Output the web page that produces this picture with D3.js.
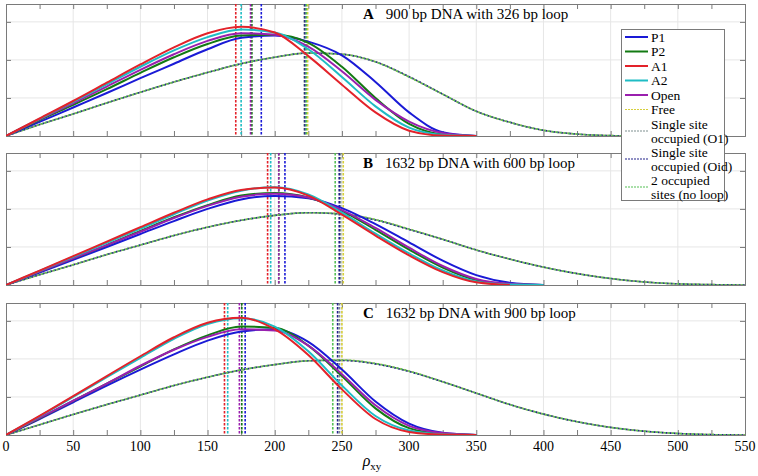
<!DOCTYPE html>
<html><head><meta charset="utf-8">
<script src="https://cdn.jsdelivr.net/npm/d3@7/dist/d3.min.js"></script>
<style>body{margin:0;background:#fff}svg{display:block}</style>
</head><body><svg id="c" width="758" height="476" font-family="'Liberation Serif', 'Times New Roman', serif"></svg>
<script>
// ---------- DATA ----------
const xGrid = [0,25,50,75,100,125,150,175,200,225,250,275,300,325,350,375,400,425,450,475,500,525,550];
const xTickLabels = [0,50,100,150,200,250,300,350,400,450,500,550];
const panelTitles = [["A","900 bp DNA with 326 bp loop"],["B","1632 bp DNA with 600 bp loop"],["C","1632 bp DNA with 900 bp loop"]];
const seriesNames = ["P1","P2","A1","A2","Open","Free","Single site occupied (O1)","Single site occupied (Oid)","2 occupied sites (no loop)"];

// Panel A
const A_P1   = [0,.37,.75,1.13,1.52,1.9,2.28,2.58,2.64,2.48,2.12,1.42,.62,.1,0];
const A_P2   = [0,.42,.82,1.23,1.66,2.07,2.42,2.64,2.66,2.45,1.82,1.0,.32,.04,0];
const A_A1   = [0,.46,.92,1.4,1.88,2.33,2.7,2.87,2.72,2.1,1.35,.62,.14,.01,0];
const A_A2   = [0,.45,.9,1.36,1.82,2.25,2.6,2.8,2.72,2.28,1.55,.78,.22,.03,0];
const A_Open = [0,.44,.86,1.3,1.74,2.15,2.5,2.7,2.66,2.35,1.7,.95,.38,.08,0];
const A_Free = [0,.3,.58,.87,1.15,1.42,1.67,1.9,2.07,2.18,2.15,1.95,1.55,1.1,.65,.36,.15,.05,.01,0];
const A_O1   = [0,.3,.58,.87,1.15,1.42,1.67,1.9,2.07,2.18,2.15,1.95,1.56,1.1,.65,.36,.15,.05,.01,0];
const A_Oid  = [0,.3,.58,.87,1.15,1.42,1.67,1.9,2.07,2.18,2.15,1.95,1.56,1.1,.65,.36,.15,.05,.01,0];
const A_Two  = [0,.3,.58,.87,1.15,1.42,1.67,1.9,2.07,2.18,2.15,1.95,1.55,1.1,.65,.36,.15,.05,.01,0];
const A_means = [190,183,171,175,182,224.5,222,222.5,223.5];

// Panel B
const B_P1   = [0,.33,.66,1.0,1.34,1.68,2.0,2.25,2.34,2.28,2.02,1.6,1.12,.64,.26,.06,0];
const B_P2   = [0,.35,.7,1.05,1.42,1.78,2.1,2.35,2.42,2.3,1.95,1.45,.93,.46,.13,.02,0];
const B_A1   = [0,.38,.76,1.14,1.52,1.9,2.25,2.5,2.56,2.35,1.85,1.3,.78,.34,.07,0];
const B_A2   = [0,.37,.74,1.11,1.48,1.86,2.22,2.48,2.57,2.38,1.9,1.35,.83,.38,.09,.01,0];
const B_Open = [0,.35,.7,1.05,1.4,1.76,2.08,2.32,2.4,2.3,1.97,1.5,.98,.5,.16,.03,0];
const B_Free = [0,.27,.53,.8,1.05,1.3,1.52,1.7,1.83,1.9,1.87,1.72,1.47,1.2,.92,.68,.47,.3,.17,.08,.03,.01,0];
const B_O1   = [0,.27,.53,.8,1.05,1.3,1.52,1.7,1.83,1.9,1.86,1.71,1.46,1.2,.92,.68,.47,.3,.17,.08,.03,.01,0];
const B_Oid  = [0,.27,.53,.8,1.05,1.3,1.52,1.7,1.83,1.9,1.86,1.71,1.46,1.2,.92,.68,.47,.3,.17,.08,.03,.01,0];
const B_Two  = [0,.27,.53,.8,1.05,1.3,1.52,1.7,1.83,1.9,1.87,1.72,1.47,1.2,.92,.68,.47,.3,.17,.08,.03,.01,0];
const B_means = [207.6,203,194.7,197,203,251,249,248,245];

// Panel C
const C_P1   = [0,.42,.86,1.3,1.72,2.12,2.48,2.72,2.78,2.45,1.72,.88,.3,.06,0];
const C_P2   = [0,.44,.9,1.35,1.8,2.25,2.62,2.85,2.82,2.35,1.55,.7,.18,.03,0];
const C_A1   = [0,.5,1.02,1.55,2.07,2.57,2.95,3.08,2.78,2.1,1.2,.42,.08,.01,0];
const C_A2   = [0,.49,1.0,1.52,2.03,2.53,2.92,3.07,2.85,2.2,1.3,.5,.12,.02,0];
const C_Open = [0,.45,.9,1.35,1.82,2.24,2.58,2.78,2.75,2.35,1.6,.78,.24,.05,0];
const C_Free = [0,.27,.54,.8,1.05,1.3,1.52,1.71,1.85,1.95,1.97,1.88,1.68,1.4,1.1,.8,.55,.35,.2,.1,.04,.01,0];
const C_O1   = [0,.27,.54,.8,1.05,1.3,1.52,1.71,1.85,1.95,1.96,1.87,1.67,1.4,1.1,.8,.55,.35,.2,.1,.04,.01,0];
const C_Oid  = [0,.27,.54,.8,1.05,1.3,1.52,1.71,1.85,1.95,1.96,1.87,1.67,1.4,1.1,.8,.55,.35,.2,.1,.04,.01,0];
const C_Two  = [0,.27,.54,.8,1.05,1.3,1.52,1.71,1.85,1.95,1.97,1.88,1.68,1.4,1.1,.8,.55,.35,.2,.1,.04,.01,0];
const C_means = [178,175.5,162.6,165,173.7,250,248.2,246.8,243.2];

const yTicks = [0,1,2,3];

// ---------- STYLE ----------
const colors = ["#1a1ad6","#137a13","#e3222a","#1fbcc4","#9a1fae","#d6cf3c","#7f8f8f","#22228a","#55c055"];
const dashed = [false,false,false,false,false,true,true,true,true];

const panels = [
  {series:[A_P1,A_P2,A_A1,A_A2,A_Open,A_Free,A_O1,A_Oid,A_Two], means:A_means, top:4},
  {series:[B_P1,B_P2,B_A1,B_A2,B_Open,B_Free,B_O1,B_Oid,B_Two], means:B_means, top:153},
  {series:[C_P1,C_P2,C_A1,C_A2,C_Open,C_Free,C_O1,C_Oid,C_Two], means:C_means, top:303}
];
const H = 132, L = 6, R = 745;
const svg = d3.select("#c");
const x = d3.scaleLinear().domain([0,550]).range([L,R]);

panels.forEach((p,pi)=>{
  const y = d3.scaleLinear().domain([0,3.47]).range([p.top+H,p.top]);
  const g = svg.append("g");
  g.append("clipPath").attr("id","clip"+pi).append("rect").attr("x",L).attr("y",p.top).attr("width",R-L).attr("height",H);
  g.selectAll(".vg").data(d3.range(50,550,50)).join("line")
    .attr("x1",d=>x(d)).attr("x2",d=>x(d)).attr("y1",p.top).attr("y2",p.top+H)
    .attr("stroke","#e6e6e6").attr("stroke-width",1);
  g.selectAll(".hg").data(yTicks.slice(1)).join("line")
    .attr("x1",L).attr("x2",R).attr("y1",d=>y(d)).attr("y2",d=>y(d))
    .attr("stroke","#e6e6e6").attr("stroke-width",1);
  const xb = d3.axisBottom(x).tickValues(d3.range(0,551,25)).tickSize(-5).tickFormat("");
  const xt = d3.axisTop(x).tickValues(d3.range(0,551,25)).tickSize(-5).tickFormat("");
  const yl = d3.axisLeft(y).tickValues(yTicks).tickSize(-5).tickFormat("");
  const yr = d3.axisRight(y).tickValues(yTicks).tickSize(-5).tickFormat("");
  [[xb,`translate(0,${p.top+H})`],[xt,`translate(0,${p.top})`],[yl,`translate(${L},0)`],[yr,`translate(${R},0)`]].forEach(([ax,tr])=>{
    const a = g.append("g").attr("transform",tr).call(ax);
    a.select(".domain").attr("stroke","#7a7a7a");
    a.selectAll(".tick line").attr("stroke","#7a7a7a");
  });
  const curves = g.append("g").attr("clip-path",`url(#clip${pi})`);
  p.means.forEach((m,i)=>{
    curves.append("line").attr("x1",x(m)).attr("x2",x(m)).attr("y1",p.top).attr("y2",p.top+H)
      .attr("stroke",colors[i]).attr("stroke-width",1.6).attr("stroke-dasharray","2.5,1.5");
  });
  const line = d3.line().x((d,i)=>x(xGrid[i])).y(d=>y(d)).curve(d3.curveMonotoneX);
  [5,6,7,8].forEach((i,k)=>{
    curves.append("path").attr("d",line(p.series[i])).attr("fill","none")
      .attr("stroke",colors[i]).attr("stroke-width",1.6).attr("stroke-dasharray","2,2").attr("stroke-dashoffset",k);
  });
  [0,1,4,3,2].forEach(i=>{
    curves.append("path").attr("d",line(p.series[i])).attr("fill","none")
      .attr("stroke",colors[i]).attr("stroke-width",2);
  });
  const t = svg.append("text").attr("x",363).attr("y",p.top+15).attr("font-size",15);
  t.append("tspan").attr("font-weight","bold").text(panelTitles[pi][0]);
  t.append("tspan").attr("dx",12).text(panelTitles[pi][1]);
});

const lastBottom = panels[2].top+H;
svg.selectAll(".xl").data(xTickLabels).join("text")
  .attr("x",d=>x(d)).attr("y",lastBottom+16).attr("text-anchor","middle").attr("font-size",14).text(d=>d);
const xl = svg.append("text").attr("x",372).attr("y",466).attr("font-size",16).attr("text-anchor","middle");
xl.append("tspan").attr("font-style","italic").text("ρ");
xl.append("tspan").attr("font-size",11).attr("dy",4).text("xy");

const lg = svg.append("g");
lg.append("rect").attr("x",621.5).attr("y",29.5).attr("width",103).attr("height",171)
  .attr("fill","#fff").attr("stroke","#7a7a7a");
const legendRows = [["P1"],["P2"],["A1"],["A2"],["Open"],["Free"],["Single site","occupied (O1)"],["Single site","occupied (Oid)"],["2 occupied","sites (no loop)"]];
let yy = 37;
legendRows.forEach((r,i)=>{
  const lineY = r.length>1 ? yy+7 : yy;
  lg.append("line").attr("x1",625).attr("x2",648).attr("y1",lineY).attr("y2",lineY)
    .attr("stroke",colors[i]).attr("stroke-width",dashed[i]?1.2:2).attr("stroke-dasharray",dashed[i]?"2,1":null);
  r.forEach((s,j)=>{
    lg.append("text").attr("x",651).attr("y",yy+4.5+j*14).attr("font-size",13.5).text(s);
  });
  yy += r.length>1 ? 28 : 14.5;
});
</script></body></html>
